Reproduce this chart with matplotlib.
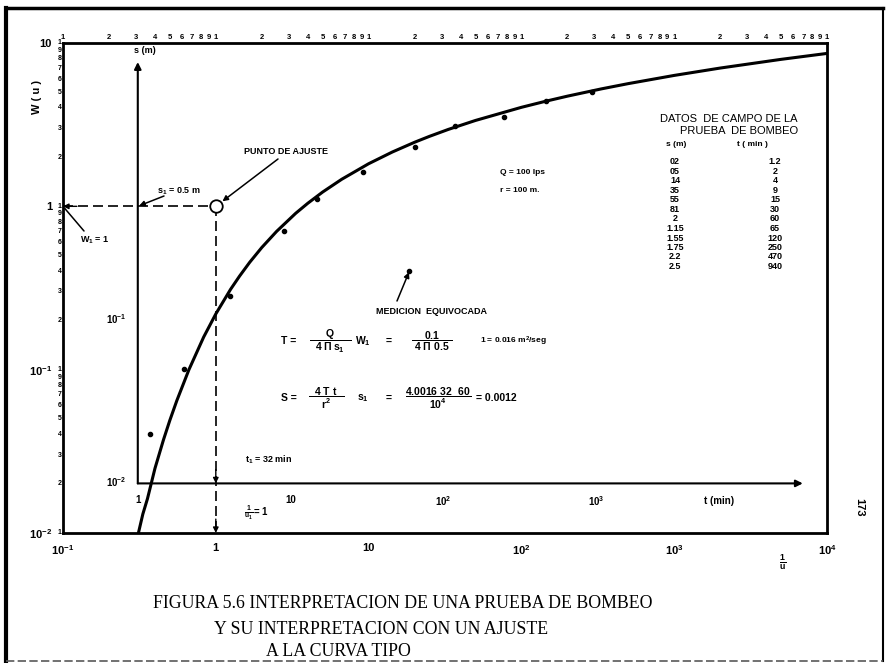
import matplotlib
matplotlib.use('Agg')
import matplotlib.pyplot as plt
import matplotlib.transforms as mtransforms
from matplotlib.lines import Line2D
from matplotlib.ticker import NullFormatter

# --- estilo: letra de rotulador, negrita ---
plt.rcParams['font.family'] = ['Liberation Sans', 'DejaVu Sans']
plt.rcParams['font.weight'] = 'bold'
plt.rcParams['mathtext.fontset'] = 'custom'
plt.rcParams['mathtext.rm'] = 'Liberation Sans:bold'
plt.rcParams['mathtext.it'] = 'Liberation Sans:bold'
plt.rcParams['mathtext.bf'] = 'Liberation Sans:bold'
plt.rcParams['axes.linewidth'] = 2.0

# --- curva tipo W(u) vs 1/u ---
inv_u = [0.31, 0.333, 0.357, 0.4, 0.4545, 0.5, 0.556, 0.667, 0.833, 1,
         1.25, 1.43, 1.667, 2, 2.5, 3.33, 4, 5, 6.67, 10, 14.3, 20, 25,
         33.3, 50, 100, 143, 200, 333, 500, 1000, 2000, 5000, 10000]
w_u = [0.0098, 0.01305, 0.0162, 0.0249, 0.0372, 0.0489, 0.0647, 0.100,
       0.1584, 0.2194, 0.3106, 0.3738, 0.4544, 0.5598, 0.7024, 0.9057,
       1.0443, 1.2227, 1.4645, 1.8229, 2.1508, 2.4679, 2.6813, 2.9591,
       3.3547, 4.0379, 4.3916, 4.7261, 5.2349, 5.6394, 6.3315, 7.0242,
       7.9402, 8.6332]

# --- datos de campo de la prueba de bombeo ---
s_m = [0.02, 0.05, 0.14, 0.35, 0.55, 0.81, 0.2, 1.15, 1.55, 1.75, 2.2, 2.5]
t_min = [1.2, 2, 4, 9, 15, 30, 60, 65, 120, 250, 470, 940]
s_txt = ['02', '05', '14', '35', '55', '81', '2', '1.15', '1.55', '1.75', '2.2', '2.5']
t_txt = ['1.2', '2', '4', '9', '15', '30', '60', '65', '120', '250', '470', '940']
i_error = 6  # medicion equivocada

# ejes
x_ticks = [0.1, 1, 10, 100, 1000, 10000]
x_labels = ['$10^{-1}$', '1', '10', '$10^2$', '$10^3$', '$10^4$']
y_ticks = [0.01, 0.1, 1, 10]
y_labels = ['$10^{-2}$', '$10^{-1}$', '1', '10']
t_ticks = [1, 10, 100, 1000]
t_labels = ['1', '10', '$10^2$', '$10^3$']
s_ticks = [0.01, 0.1]
s_labels = ['$10^{-2}$', '$10^{-1}$']

# punto de ajuste y desplazamiento del papel de datos
u_match, w_match = 1.0, 1.0
t_shift, s_shift = 3.24, 0.497
t_end, s_end = 22500, 3.8

W, H = 886, 663


def fp(x, y):
    # pixel de la pagina -> fraccion de figura
    return (x / W, 1 - y / H)


fig = plt.figure(figsize=(W / 100, H / 100), dpi=100)
rect = [63 / W, 1 - 533 / H, 764 / W, 490 / H]

ax = fig.add_axes(rect)
ax.set_xscale('log')
ax.set_yscale('log')
ax.set_xlim(0.1, 1e4)
ax.set_ylim(0.01, 10)
ax.xaxis.set_minor_formatter(NullFormatter())
ax.yaxis.set_minor_formatter(NullFormatter())
ax.set_xticks(x_ticks, x_labels, fontsize=8)
ax.set_yticks(y_ticks, y_labels, fontsize=8)
ax.tick_params(which='both', length=0)
ax.tick_params(axis='x', pad=7)
ax.tick_params(axis='y', pad=8)

# digitos del papel logaritmico
ytr = mtransforms.blended_transform_factory(ax.transAxes, ax.transData)
xtr = mtransforms.blended_transform_factory(ax.transData, ax.transAxes)
for d in [-2, -1, 0]:
    for k in range(1, 10):
        ax.text(-0.002, k * 10.0 ** d, str(k), transform=ytr, ha='right',
                va='center', fontsize=5)
ax.text(-0.002, 10, '1', transform=ytr, ha='right', va='center', fontsize=5)
for d in [-1, 0, 1, 2, 3]:
    for k in range(1, 10):
        ax.text(k * 10.0 ** d, 1.005, str(k), transform=xtr, ha='center',
                va='bottom', fontsize=5.5)
ax.text(1e4, 1.005, '1', transform=xtr, ha='center', va='bottom', fontsize=5.5)

# curva tipo
ax.plot(inv_u, w_u, color='k', lw=2.2, solid_capstyle='butt',
        solid_joinstyle='round')

# lineas de ajuste
ax.plot([0.1, u_match], [w_match, w_match], color='k', lw=1.2, dashes=(6, 3))
ax.plot([u_match, u_match], [w_match, 0.01], color='k', lw=1.2, dashes=(6, 3))
ax.plot(u_match, w_match, 'o', ms=9, mfc='white', mec='k', mew=1.3, zorder=6)
head = dict(arrowstyle='-|>', color='k', lw=1, mutation_scale=8,
            shrinkA=0, shrinkB=0)
ax.annotate('', xy=(0.1, w_match), xytext=(10, 0), textcoords='offset points',
            arrowprops=head)
ax.annotate('', xy=(u_match, 0.01), xytext=(0, 10), textcoords='offset points',
            arrowprops=head)

# --- papel transparente con los datos de campo (s vs t) ---
ax2 = fig.add_axes(rect, frameon=False)
ax2.set_xscale('log')
ax2.set_yscale('log')
ax2.set_xlim(0.1 * t_shift, 1e4 * t_shift)
ax2.set_ylim(0.01 * s_shift, 10 * s_shift)
ax2.axis('off')

axis_arrow = dict(arrowstyle='-|>', color='k', lw=1.5, mutation_scale=10,
                  shrinkA=0, shrinkB=0)
ax2.annotate('', xy=(t_end, 0.01), xytext=(1, 0.01), arrowprops=axis_arrow)
ax2.annotate('', xy=(1, s_end), xytext=(1, 0.01), arrowprops=axis_arrow)
for t, lab in zip(t_ticks, t_labels):
    ax2.annotate(lab, xy=(t, 0.01), xytext=(0, -8), textcoords='offset points',
                 ha='center', va='top', fontsize=7)
ax2.annotate('t (min)', xy=(6400, 0.01), xytext=(0, -9),
             textcoords='offset points', ha='center', va='top', fontsize=7)
for s, lab in zip(s_ticks, s_labels):
    ax2.annotate(lab, xy=(1, s), xytext=(-8, 1), textcoords='offset points',
                 ha='right', va='center', fontsize=7)
ax2.annotate('s (m)', xy=(1, s_end), xytext=(-3, 5), textcoords='offset points',
             ha='left', va='bottom', fontsize=6.5)

ax2.plot(t_min, s_m, 'o', ms=3, color='k', zorder=5)

# flecha en el cruce con el eje t
ax2.annotate('', xy=(u_match, 0.01), xycoords=(ax.transData, ax2.transData),
             xytext=(0, 10), textcoords='offset points', arrowprops=head)

# --- rotulos ---
fig.text(*fp(37, 97), 'W ( u )', rotation=90, ha='center', va='center', fontsize=8)

ax.annotate('', xy=(u_match, w_match), xytext=fp(278, 159),
            textcoords='figure fraction',
            arrowprops=dict(arrowstyle='-|>', color='k', lw=1.1,
                            mutation_scale=8, shrinkA=0, shrinkB=6))
fig.text(*fp(286, 151), 'PUNTO DE AJUSTE', ha='center', va='center', fontsize=6.5)

ax2.annotate('', xy=(1, s_shift * w_match), xytext=fp(164, 196),
             textcoords='figure fraction',
             arrowprops=dict(arrowstyle='-|>', color='k', lw=1.1,
                             mutation_scale=8, shrinkA=0, shrinkB=1))
fig.text(*fp(179, 191), 's$_1$ = 0.5 m', ha='center', va='center', fontsize=6.5)

ax.annotate('', xy=(0.1, w_match), xytext=fp(84, 231),
            textcoords='figure fraction',
            arrowprops=dict(arrowstyle='-', color='k', lw=1.1, shrinkA=0, shrinkB=2))
fig.text(*fp(95, 240), 'W$_1$ = 1', ha='center', va='center', fontsize=6.5)

fig.text(*fp(500, 172), 'Q = 100 lps', ha='left', va='center', fontsize=6)
fig.text(*fp(500, 190), 'r = 100 m.', ha='left', va='center', fontsize=6)

ax2.annotate('', xy=(t_min[i_error], s_m[i_error]), xytext=fp(397, 301),
             textcoords='figure fraction',
             arrowprops=dict(arrowstyle='-|>', color='k', lw=1.1,
                             mutation_scale=8, shrinkA=0, shrinkB=1))
fig.text(*fp(431, 312), 'MEDICION  EQUIVOCADA', ha='center', va='center', fontsize=6.5)

# formulas de T y S
eq = dict(va='center', fontsize=7.5)
fig.text(*fp(281, 341), 'T =', ha='left', **eq)
fig.text(*fp(330, 341), r'$\dfrac{Q}{\ \ 4\ \Pi\, s_1\ \ }$', ha='center', **eq)
fig.text(*fp(363, 341), 'W$_1$', ha='center', **eq)
fig.text(*fp(389, 341), '=', ha='center', **eq)
fig.text(*fp(432, 341), r'$\dfrac{0.1}{\ 4\ \Pi\ 0.5\ }$', ha='center', **eq)
fig.text(*fp(480, 341), r'1 = 0.016 m$^2$/seg', ha='left', va='center', fontsize=6)

fig.text(*fp(281, 398), 'S =', ha='left', **eq)
fig.text(*fp(326, 398), r'$\dfrac{\ \ 4\ T\ t\ \ }{r^2}$', ha='center', **eq)
fig.text(*fp(363, 398), 's$_1$', ha='center', **eq)
fig.text(*fp(389, 398), '=', ha='center', **eq)
fig.text(*fp(438, 398), r'$\dfrac{4.0016\ 32\ \ 60}{10^4}$', ha='center', **eq)
fig.text(*fp(476, 398), '= 0.0012', ha='left', **eq)

fig.text(*fp(245, 460), 't$_1$ = 32 min', ha='left', va='center', fontsize=6.5)
fig.text(*fp(244, 513), r'$\frac{1}{u_1} = 1$', ha='left', va='center', fontsize=7)
fig.text(*fp(783, 562), r'$\frac{1}{u}$', ha='center', va='center', fontsize=9)
fig.text(*fp(859, 507), '173', rotation=270, ha='center', va='center', fontsize=8)

# tabla de datos de campo
fig.text(*fp(798, 119), 'DATOS  DE CAMPO DE LA', ha='right', va='center',
         fontsize=8, weight='normal')
fig.text(*fp(798, 131), 'PRUEBA  DE BOMBEO', ha='right', va='center',
         fontsize=8, weight='normal')
fig.text(*fp(676, 144), 's (m)', ha='center', va='center', fontsize=6)
fig.text(*fp(752, 144), 't ( min )', ha='center', va='center', fontsize=6)
for i, (a, b) in enumerate(zip(s_txt, t_txt)):
    fig.text(*fp(675, 162 + i * 9.5), a, ha='center', va='center', fontsize=6.5)
    fig.text(*fp(775, 162 + i * 9.5), b, ha='center', va='center', fontsize=6.5)

# pie de figura
cap = dict(family='Liberation Serif', weight='normal', fontsize=12.8,
           ha='left', va='center')
fig.text(*fp(153, 604), 'FIGURA 5.6 INTERPRETACION DE UNA PRUEBA DE BOMBEO', **cap)
fig.text(*fp(214, 629), 'Y SU INTERPRETACION CON UN AJUSTE', **cap)
fig.text(*fp(266, 652), 'A LA CURVA TIPO', **cap)

# marco de la pagina
fig.add_artist(Line2D([6 / W, 6 / W], [1 - 8 / H, 1 - 661 / H], lw=3, color='k'))
fig.add_artist(Line2D([6 / W, 883 / W], [1 - 8 / H, 1 - 8 / H], lw=2.5, color='k'))
fig.add_artist(Line2D([883 / W, 883 / W], [1 - 8 / H, 1 - 661 / H], lw=1.5, color='k'))
fig.add_artist(Line2D([6 / W, 883 / W], [1 - 661 / H, 1 - 661 / H], lw=1.2,
                      color='0.35', dashes=(5, 2)))

fig.savefig('out.png', dpi=100)
